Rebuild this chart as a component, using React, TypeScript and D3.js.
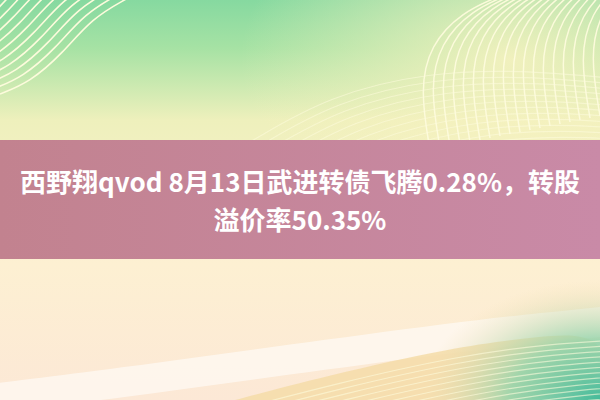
import React, { useEffect, useRef } from 'react';
import * as d3 from 'd3';

// title lines of the banner
const titleLines = ['西野翔qvod 8月13日武进转债飞腾0.28%，转股', '溢价率50.35%'];

// background colour stops (offset, colour), top to bottom
const skyStops: [number, string][] = [
  [0, '#86d9a0'],
  [0.12, '#a6e2a4'],
  [0.3, '#eef0bc'],
  [0.66, '#fdf0d2'],
  [1, '#fce8d6'],
];
const bandStops: [number, string][] = [
  [0, '#c2828f'],
  [1, '#c98aa7'],
];

// control curves of the decorative line families: [x, y] pairs
const topLeftCurve: [number, number][] = [[0, 94], [30, 82], [62, 54], [92, 18], [128, -2]];
const topRightCurve: [number, number][] = [[430, 150], [420, 90], [430, 45], [462, 12], [500, -4]];
const sweepCurve: [number, number][] = [[250, 142], [330, 95], [430, 72], [520, 70], [610, 78]];
const streakCurve: [number, number][] = [[-10, 400], [150, 380], [330, 355], [480, 335], [610, 322]];
const duneCurve: [number, number][] = [[220, 404], [330, 375], [450, 348], [540, 336], [610, 332]];

export default function App() {
  const svgRef = useRef<SVGSVGElement>(null);

  useEffect(() => {
    if (!svgRef.current) return;
    const width = 600;
    const height = 400;
    const svg = d3.select(svgRef.current);
    svg.selectAll('*').remove();
    svg.attr('width', width).attr('height', height);

    const defs = svg.append('defs');

    const sky = defs.append('linearGradient').attr('id', 'sky')
      .attr('x1', 0).attr('y1', 0).attr('x2', 0).attr('y2', 1);
    sky.selectAll('stop').data(skyStops).join('stop')
      .attr('offset', d => d[0]).attr('stop-color', d => d[1]);

    const warm = defs.append('radialGradient').attr('id', 'warm')
      .attr('cx', 0.85).attr('cy', 0.15).attr('r', 0.45);
    warm.append('stop').attr('offset', 0).attr('stop-color', '#f8f2c0').attr('stop-opacity', 0.9);
    warm.append('stop').attr('offset', 1).attr('stop-color', '#f8f2c0').attr('stop-opacity', 0);

    const teal = defs.append('radialGradient').attr('id', 'teal')
      .attr('cx', 1).attr('cy', 1).attr('r', 0.3);
    teal.append('stop').attr('offset', 0).attr('stop-color', '#45bb9a');
    teal.append('stop').attr('offset', 0.5).attr('stop-color', '#92d3aa').attr('stop-opacity', 0.85);
    teal.append('stop').attr('offset', 1).attr('stop-color', '#f3dfb0').attr('stop-opacity', 0);

    const band = defs.append('linearGradient').attr('id', 'band')
      .attr('x1', 0).attr('y1', 0).attr('x2', 1).attr('y2', 0);
    band.selectAll('stop').data(bandStops).join('stop')
      .attr('offset', d => d[0]).attr('stop-color', d => d[1]);

    svg.append('rect').attr('width', width).attr('height', height).attr('fill', 'url(#sky)');
    svg.append('rect').attr('width', width).attr('height', height).attr('fill', 'url(#warm)');

    const line = d3.line<[number, number]>().curve(d3.curveBasis);

    // white soft streak across the bottom
    const streak = d3.area<[number, number]>()
      .x(d => d[0]).y0(d => d[1] - 16).y1(d => d[1] + 14).curve(d3.curveBasis);
    svg.append('path').attr('d', streak(streakCurve) ?? '')
      .attr('fill', '#ffffff').attr('opacity', 0.55);

    // golden dune + teal corner
    const dune: [number, number][] = [...duneCurve, [610, 410], [220, 410]];
    svg.append('path').attr('d', line(dune) ?? '')
      .attr('fill', '#f5dca8').attr('opacity', 0.85);
    svg.append('rect').attr('width', width).attr('height', height).attr('fill', 'url(#teal)');

    const family = (base: [number, number][], n: number, dx: number, dy: number, op: number, w = 1.2) => {
      const g = svg.append('g');
      d3.range(n).forEach(i => {
        const pts = base.map(([x, y]) => [x + dx * i, y + dy * i] as [number, number]);
        g.append('path').attr('d', line(pts) ?? '')
          .attr('fill', 'none').attr('stroke', '#fdfbdc')
          .attr('stroke-width', w).attr('opacity', op);
      });
    };
    family(topLeftCurve, 15, -7, -5, 1, 1.6);
    family(topRightCurve, 18, 10, -2, 0.95, 1.5);
    family(sweepCurve, 16, 6, 6, 0.55);
    family(duneCurve.map(([x, y]) => [x + 8, y + 8] as [number, number]), 14, 4, 5, 0.6);

    // pink band
    svg.append('rect').attr('x', 0).attr('y', 140).attr('width', width).attr('height', 119)
      .attr('fill', 'url(#band)');

    svg.append('g').selectAll('text').data(titleLines).join('text')
      .attr('x', width / 2)
      .attr('y', (d, i) => 192 + i * 38)
      .attr('text-anchor', 'middle')
      .style('font-family', '"Noto Sans CJK SC", "Noto Sans", sans-serif')
      .style('font-weight', 700)
      .style('font-size', '26px')
      .style('fill', '#ffffff')
      .text(d => d);
  }, []);

  return (
    <div style={{ position: 'fixed', left: 0, top: 0, width: 600, height: 400 }}>
      <svg ref={svgRef} style={{ display: 'block' }} />
    </div>
  );
}
